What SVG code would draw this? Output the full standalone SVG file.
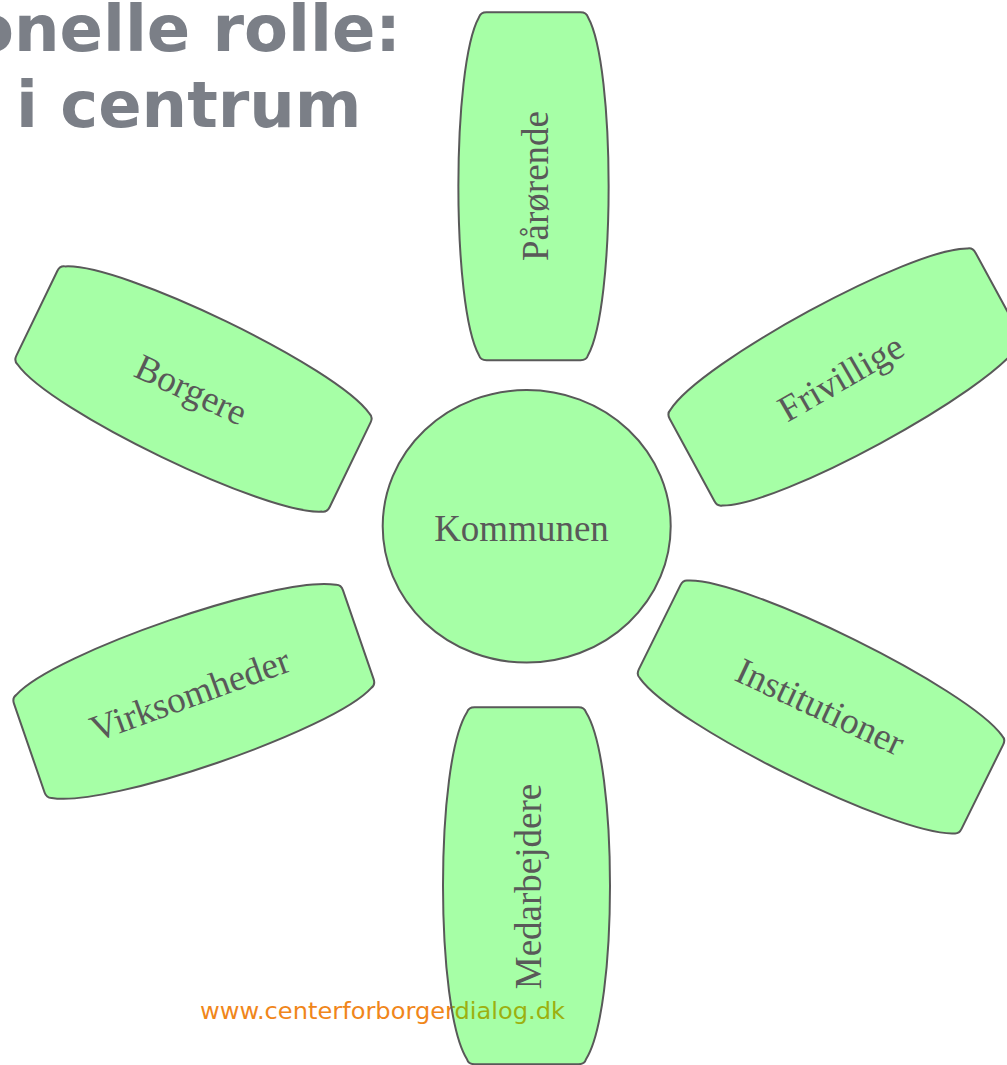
<svg xmlns="http://www.w3.org/2000/svg" xmlns:xlink="http://www.w3.org/1999/xlink" width="1007" height="1065" viewBox="0 0 1007 1065">
<style>
.petal{fill:#00ff00;fill-opacity:0.35;stroke:#595959;stroke-width:2;stroke-linejoin:round}
.lbl{font-family:"Liberation Serif","Times New Roman",serif;font-size:37px;fill:#595959;text-anchor:middle}
.title{font-family:"DejaVu Sans",Verdana,sans-serif;font-weight:bold;font-size:64px;fill:#7b7f87}
.foot{font-family:"DejaVu Sans",Verdana,sans-serif;font-size:23.5px;fill:#f0861a}
</style>
<defs>
<path id="petalA" d="M -47,-174 L 47,-174 Q 53,-174 54.5,-169 C 82,-120 82,120 54.5,169 Q 53,174 47,174 L -47,174 Q -53,174 -54.5,169 C -82,120 -82,-120 -54.5,-169 Q -53,-174 -47,-174 Z"/>
<path id="petalB" d="M -47,-180 L 47,-180 Q 53,-180 54.5,-175 C 82,-124 82,124 54.5,175 Q 53,180 47,180 L -47,180 Q -53,180 -54.5,175 C -82,124 -82,-124 -54.5,-175 Q -53,-180 -47,-180 Z"/>
<path id="petalC" d="M -52,-178.5 L 52,-178.5 Q 58,-178.5 59.5,-173.5 C 91.5,-123 91.5,123 59.5,173.5 Q 58,178.5 52,178.5 L -52,178.5 Q -58,178.5 -59.5,173.5 C -91.5,123 -91.5,-123 -59.5,-173.5 Q -58,-178.5 -52,-178.5 Z"/>
</defs>
<rect width="1007" height="1065" fill="#ffffff"/>
<g id="title">
<text class="title" x="-30" y="51">onelle rolle:</text>
<text class="title" x="16" y="127">i centrum</text>
</g>
<text id="footer" class="foot" x="200" y="1019" textLength="365" lengthAdjust="spacingAndGlyphs">www.centerforborgerdialog.dk</text>
<g id="connectors"></g>
<g id="kommunen">
<ellipse class="petal" cx="526.7" cy="526.3" rx="144" ry="136.3"/>
<text class="lbl" x="521.5" y="540.7">Kommunen</text>
</g>
<g id="parorende">
<use xlink:href="#petalA" class="petal" transform="translate(533.5,186.2)"/>
<text class="lbl" transform="translate(534,186) rotate(-90)" y="14">Pårørende</text>
</g>
<g id="borgere">
<use xlink:href="#petalA" class="petal" transform="translate(193.5,389) rotate(-64.2)"/>
<text class="lbl" transform="translate(191,390) rotate(25)" y="12">Borgere</text>
</g>
<g id="frivillige">
<use xlink:href="#petalA" class="petal" transform="translate(845,377) rotate(61.5)"/>
<text class="lbl" transform="translate(841,378) rotate(-30)" y="12">Frivillige</text>
</g>
<g id="virksomheder">
<use xlink:href="#petalA" class="petal" transform="translate(193.8,691.4) rotate(71)"/>
<text class="lbl" transform="translate(190,695) rotate(-20)" y="12">Virksomheder</text>
</g>
<g id="institutioner">
<use xlink:href="#petalB" class="petal" transform="translate(821,707) rotate(-63.7)"/>
<text class="lbl" transform="translate(820,707) rotate(25)" y="12">Institutioner</text>
</g>
<g id="medarbejdere">
<use xlink:href="#petalC" class="petal" transform="translate(526.5,885.7)"/>
<text class="lbl" transform="translate(527,886.5) rotate(-90)" y="14">Medarbejdere</text>
</g>
</svg>
